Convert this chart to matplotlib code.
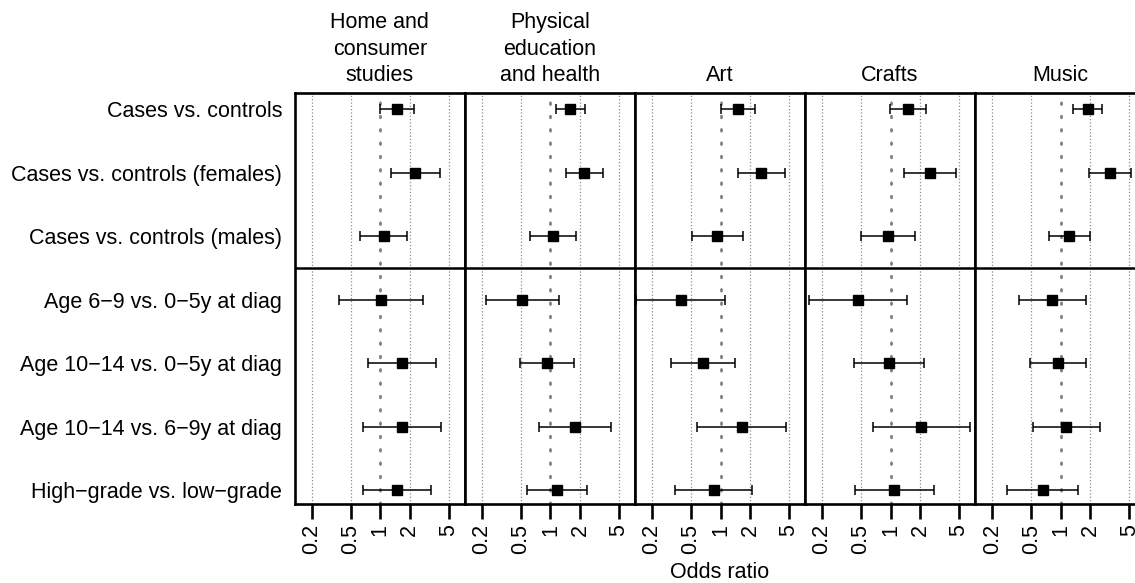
import numpy as np
import matplotlib
matplotlib.use("Agg")
import matplotlib.pyplot as plt

plt.rcParams['font.family'] = ['Liberation Sans', 'DejaVu Sans']
plt.rcParams['font.size'] = 15.5

comparisons = [
    "Cases vs. controls",
    "Cases vs. controls (females)",
    "Cases vs. controls (males)",
    "Age 6\u22129 vs. 0\u22125y at diag",
    "Age 10\u221214 vs. 0\u22125y at diag",
    "Age 10\u221214 vs. 6\u22129y at diag",
    "High\u2212grade vs. low\u2212grade",
]
subjects = ["Home and\nconsumer\nstudies", "Physical\neducation\nand health", "Art", "Crafts", "Music"]

# odds ratios with 95% CI, one list per subject (rows in the order of comparisons)
home_or = [1.48, 2.28, 1.08, 1.02, 1.68, 1.67, 1.49]
home_lo = [1.00, 1.29, 0.625, 0.38, 0.755, 0.67, 0.67]
home_hi = [2.19, 4.07, 1.86, 2.75, 3.73, 4.13, 3.31]

pe_or = [1.60, 2.22, 1.07, 0.518, 0.925, 1.79, 1.16]
pe_lo = [1.15, 1.45, 0.625, 0.221, 0.49, 0.77, 0.574]
pe_hi = [2.24, 3.45, 1.82, 1.21, 1.76, 4.19, 2.35]

art_or = [1.50, 2.60, 0.918, 0.397, 0.66, 1.65, 0.849]
art_lo = [1.02, 1.50, 0.506, 0.136, 0.309, 0.578, 0.342]
art_hi = [2.24, 4.54, 1.68, 1.12, 1.40, 4.71, 2.12]

crafts_or = [1.49, 2.54, 0.93, 0.46, 0.96, 2.06, 1.08]
crafts_lo = [0.99, 1.38, 0.494, 0.147, 0.423, 0.666, 0.43]
crafts_hi = [2.28, 4.65, 1.79, 1.46, 2.17, 6.5, 2.75]

music_or = [1.90, 3.18, 1.22, 0.82, 0.94, 1.14, 0.655]
music_lo = [1.35, 1.96, 0.755, 0.375, 0.49, 0.525, 0.285]
music_hi = [2.66, 5.25, 1.99, 1.80, 1.82, 2.50, 1.51]

estimates = [home_or, pe_or, art_or, crafts_or, music_or]
lowers = [home_lo, pe_lo, art_lo, crafts_lo, music_lo]
uppers = [home_hi, pe_hi, art_hi, crafts_hi, music_hi]

xticks = [0.2, 0.5, 1, 2, 5]

W, H = 1135, 583
fig = plt.figure(figsize=(W / 100, H / 100), dpi=100)

left0, pw = 294.7, 170.1
top, bot = 93.3, 504.3
rows = np.arange(1, len(comparisons) + 1)

for i, subj in enumerate(subjects):
    ax = fig.add_axes([(left0 + i * pw) / W, 1 - bot / H, pw / W, (bot - top) / H])
    ax.set_xscale('log')
    ax.set_xlim(0.1338, 7.28)
    ax.set_ylim(7.225, 0.748)

    for t in [0.2, 0.5, 2, 5]:
        ax.axvline(t, color='#8c8c8c', lw=0.9, ls=':', zorder=1)
    ax.axvline(1, color='#808080', lw=2.0, ls=(0, (0.6, 4.2)),
               dash_capstyle='round', zorder=1)
    ax.axhline(3.5, color='black', lw=1.8, zorder=2)

    est = np.array(estimates[i])
    lo = np.array(lowers[i])
    hi = np.array(uppers[i])
    ax.errorbar(est, rows, xerr=[est - lo, hi - est], fmt='s', color='black',
                ms=7.5, elinewidth=1.1, capsize=3.4, capthick=1.1, zorder=3)

    for s in ax.spines.values():
        s.set_linewidth(1.9)

    ax.set_xticks(xticks)
    ax.set_xticklabels([str(t) for t in xticks], rotation=90)
    ax.xaxis.set_minor_locator(plt.NullLocator())
    ax.tick_params(axis='x', length=11, width=1.9, pad=3, labelsize=15.5)

    if i == 0:
        ax.set_yticks(rows)
        ax.set_yticklabels(comparisons)
        ax.tick_params(axis='y', length=0, pad=9, labelsize=15.5)
    else:
        ax.set_yticks([])

    ax.set_title(subj, fontsize=15.5, pad=8.5, linespacing=1.35)

fig.text((left0 + 2.5 * pw) / W, 1 - 573 / H, "Odds ratio", ha='center', va='center', fontsize=15.5)

fig.savefig("out.png", dpi=100)
